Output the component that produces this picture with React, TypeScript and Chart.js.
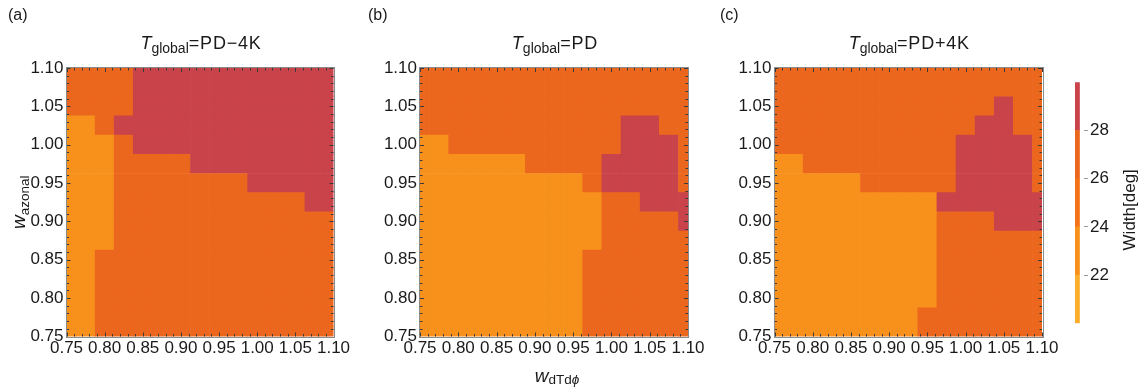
import React, { useEffect, useRef } from "react";
import { Chart, registerables } from "chart.js";

Chart.register(...registerables);

// ---- data ----
// cell centres (w_dTdphi along x, w_azonal along y, bottom to top)
const wdTdphi = [0.75, 0.775, 0.8, 0.825, 0.85, 0.875, 0.9, 0.925, 0.95, 0.975, 1.0, 1.025, 1.05, 1.075, 1.1];
const wazonal = [0.75, 0.775, 0.8, 0.825, 0.85, 0.875, 0.9, 0.925, 0.95, 0.975, 1.0, 1.025, 1.05, 1.075, 1.1];
const axisTicks = [0.75, 0.8, 0.85, 0.9, 0.95, 1.0, 1.05, 1.1];
const colorLevels = [20, 22, 24, 26, 28, 30];
const colorbarTicks = [22, 24, 26, 28];
const levelColors = ["#FBAF2C", "#F8911C", "#F47318", "#EC671E", "#C9434A"];

// Width [deg]; rows listed from w_azonal = 1.10 (top) down to 0.75 (bottom)
const widthPDminus4K = [
  [27, 27, 27, 27, 29, 29, 29, 29, 29, 29, 29, 29, 29, 29, 29],
  [27, 27, 27, 27, 29, 29, 29, 29, 29, 29, 29, 29, 29, 29, 29],
  [27, 27, 27, 27, 29, 29, 29, 29, 29, 29, 29, 29, 29, 29, 29],
  [23, 23, 27, 29, 29, 29, 29, 29, 29, 29, 29, 29, 29, 29, 29],
  [23, 23, 23, 27, 29, 29, 29, 29, 29, 29, 29, 29, 29, 29, 29],
  [23, 23, 23, 27, 27, 27, 27, 29, 29, 29, 29, 29, 29, 29, 29],
  [23, 23, 23, 27, 27, 27, 27, 27, 27, 27, 29, 29, 29, 29, 29],
  [23, 23, 23, 27, 27, 27, 27, 27, 27, 27, 27, 27, 27, 29, 29],
  [23, 23, 23, 27, 27, 27, 27, 27, 27, 27, 27, 27, 27, 27, 27],
  [23, 23, 23, 27, 27, 27, 27, 27, 27, 27, 27, 27, 27, 27, 27],
  [23, 23, 27, 27, 27, 27, 27, 27, 27, 27, 27, 27, 27, 27, 27],
  [23, 23, 27, 27, 27, 27, 27, 27, 27, 27, 27, 27, 27, 27, 27],
  [23, 23, 27, 27, 27, 27, 27, 27, 27, 27, 27, 27, 27, 27, 27],
  [23, 23, 27, 27, 27, 27, 27, 27, 27, 27, 27, 27, 27, 27, 27],
  [23, 23, 27, 27, 27, 27, 27, 27, 27, 27, 27, 27, 27, 27, 27],
];

const widthPD = [
  [27, 27, 27, 27, 27, 27, 27, 27, 27, 27, 27, 27, 27, 27, 27],
  [27, 27, 27, 27, 27, 27, 27, 27, 27, 27, 27, 27, 27, 27, 27],
  [27, 27, 27, 27, 27, 27, 27, 27, 27, 27, 27, 27, 27, 27, 27],
  [27, 27, 27, 27, 27, 27, 27, 27, 27, 27, 27, 29, 29, 27, 27],
  [23, 23, 27, 27, 27, 27, 27, 27, 27, 27, 27, 29, 29, 29, 27],
  [23, 23, 23, 23, 23, 23, 27, 27, 27, 27, 29, 29, 29, 29, 27],
  [23, 23, 23, 23, 23, 23, 23, 23, 23, 27, 29, 29, 29, 29, 27],
  [23, 23, 23, 23, 23, 23, 23, 23, 23, 23, 27, 27, 29, 29, 29],
  [23, 23, 23, 23, 23, 23, 23, 23, 23, 23, 27, 27, 27, 27, 29],
  [23, 23, 23, 23, 23, 23, 23, 23, 23, 23, 27, 27, 27, 27, 27],
  [23, 23, 23, 23, 23, 23, 23, 23, 23, 27, 27, 27, 27, 27, 27],
  [23, 23, 23, 23, 23, 23, 23, 23, 23, 27, 27, 27, 27, 27, 27],
  [23, 23, 23, 23, 23, 23, 23, 23, 23, 27, 27, 27, 27, 27, 27],
  [23, 23, 23, 23, 23, 23, 23, 23, 23, 27, 27, 27, 27, 27, 27],
  [23, 23, 23, 23, 23, 23, 23, 23, 23, 27, 27, 27, 27, 27, 27],
];

const widthPDplus4K = [
  [27, 27, 27, 27, 27, 27, 27, 27, 27, 27, 27, 27, 27, 27, 27],
  [27, 27, 27, 27, 27, 27, 27, 27, 27, 27, 27, 27, 27, 27, 27],
  [27, 27, 27, 27, 27, 27, 27, 27, 27, 27, 27, 27, 29, 27, 27],
  [27, 27, 27, 27, 27, 27, 27, 27, 27, 27, 27, 29, 29, 27, 27],
  [27, 27, 27, 27, 27, 27, 27, 27, 27, 27, 29, 29, 29, 29, 27],
  [23, 23, 27, 27, 27, 27, 27, 27, 27, 27, 29, 29, 29, 29, 27],
  [23, 23, 23, 23, 23, 27, 27, 27, 27, 27, 29, 29, 29, 29, 27],
  [23, 23, 23, 23, 23, 23, 23, 23, 23, 29, 29, 29, 29, 29, 29],
  [23, 23, 23, 23, 23, 23, 23, 23, 23, 27, 27, 27, 29, 29, 29],
  [23, 23, 23, 23, 23, 23, 23, 23, 23, 27, 27, 27, 27, 27, 27],
  [23, 23, 23, 23, 23, 23, 23, 23, 23, 27, 27, 27, 27, 27, 27],
  [23, 23, 23, 23, 23, 23, 23, 23, 23, 27, 27, 27, 27, 27, 27],
  [23, 23, 23, 23, 23, 23, 23, 23, 23, 27, 27, 27, 27, 27, 27],
  [23, 23, 23, 23, 23, 23, 23, 23, 27, 27, 27, 27, 27, 27, 27],
  [23, 23, 23, 23, 23, 23, 23, 23, 27, 27, 27, 27, 27, 27, 27],
];

// ---- styling / layout ----
const W = 1140;
const H = 390;
const FONT = "'Liberation Sans', Arial, Helvetica, sans-serif";
const TEXT = "#1a1a1a";

type Part = { text: string; font: string; dy?: number; ls?: string };

function colorFor(v: number) {
  for (let k = 0; k < levelColors.length; k++) {
    if (v < colorLevels[k + 1]) return levelColors[k];
  }
  return levelColors[levelColors.length - 1];
}

function drawRich(ctx: CanvasRenderingContext2D, parts: Part[], x: number, y: number, align: "center" | "left") {
  const c: any = ctx;
  let total = 0;
  for (const p of parts) {
    ctx.font = p.font;
    c.letterSpacing = p.ls || "0px";
    total += ctx.measureText(p.text).width;
  }
  let cx = align === "center" ? x - total / 2 : x;
  ctx.textAlign = "left";
  ctx.textBaseline = "alphabetic";
  for (const p of parts) {
    ctx.font = p.font;
    c.letterSpacing = p.ls || "0px";
    ctx.fillText(p.text, cx, y + (p.dy || 0));
    cx += ctx.measureText(p.text).width;
  }
  c.letterSpacing = "0px";
}

const panels = [
  {
    values: widthPDminus4K,
    title: "=PD\u22124K",
    letter: "(a)",
    letterX: 8,
    area: { left: 66.5, right: 333.5, top: 68, bottom: 336.5 },
    yTitle: true,
    xTitle: false,
  },
  {
    values: widthPD,
    title: "=PD",
    letter: "(b)",
    letterX: 368,
    area: { left: 420, right: 688, top: 68, bottom: 336.5 },
    yTitle: false,
    xTitle: true,
  },
  {
    values: widthPDplus4K,
    title: "=PD+4K",
    letter: "(c)",
    letterX: 720,
    area: { left: 774.5, right: 1042, top: 68, bottom: 336.5 },
    yTitle: false,
    xTitle: false,
  },
];

const Y_AXIS_W = 50;
const X_AXIS_H = 30;

function makePanelConfig(p: (typeof panels)[number]): any {
  const data: any[] = [];
  const colors: string[] = [];
  const dy = wazonal[1] - wazonal[0];
  const nRows = p.values.length;
  p.values.forEach((row, r) => {
    const yc = wazonal[nRows - 1 - r];
    row.forEach((v, i) => {
      data.push({ x: wdTdphi[i], y: [yc - dy / 2, yc + dy / 2], w: v });
      colors.push(colorFor(v));
    });
  });

  const framePlugin = {
    id: "frameAndText",
    afterDatasetsDraw(chart: any) {
      const { ctx, chartArea } = chart;
      const { left, right, top, bottom } = chartArea;
      const xs = chart.scales.x;
      const ys = chart.scales.y;
      ctx.save();
      // inward ticks on all four sides (major 0.05, minor 0.01)
      ctx.strokeStyle = "#3a3a3a";
      ctx.lineWidth = 1;
      ctx.beginPath();
      for (let k = 0; k <= 35; k++) {
        const v = 0.75 + k * 0.01;
        const len = k % 5 === 0 ? 4 : 2.5;
        const px = Math.round(xs.getPixelForValue(v)) + 0.5;
        ctx.moveTo(px, bottom);
        ctx.lineTo(px, bottom - len);
        ctx.moveTo(px, top);
        ctx.lineTo(px, top + len);
        const py = Math.round(ys.getPixelForValue(v)) + 0.5;
        ctx.moveTo(left, py);
        ctx.lineTo(left + len, py);
        ctx.moveTo(right, py);
        ctx.lineTo(right - len, py);
      }
      ctx.stroke();
      // frame
      ctx.strokeStyle = "#8a8a8a";
      ctx.lineWidth = 1;
      ctx.strokeRect(Math.round(left) - 0.5, Math.round(top) - 0.5, Math.round(right - left) + 1, Math.round(bottom - top) + 1);

      // texts
      ctx.fillStyle = TEXT;
      ctx.font = `16px ${FONT}`;
      ctx.textAlign = "left";
      ctx.textBaseline = "alphabetic";
      ctx.fillText(p.letter, p.letterX, 20);

      drawRich(
        ctx,
        [
          { text: "T", font: `italic 18px ${FONT}` },
          { text: "global", font: `14px ${FONT}`, dy: 4.2 },
          { text: p.title, font: `18px ${FONT}`, ls: "0.8px" },
        ],
        (left + right) / 2 + 1,
        48.5,
        "center"
      );

      if (p.yTitle) {
        ctx.save();
        ctx.translate(25, (top + bottom) / 2);
        ctx.rotate(-Math.PI / 2);
        drawRich(
          ctx,
          [
            { text: "w", font: `italic 19px ${FONT}` },
            { text: "azonal", font: `13.5px ${FONT}`, dy: 3.5 },
          ],
          0,
          0,
          "center"
        );
        ctx.restore();
      }
      if (p.xTitle) {
        drawRich(
          ctx,
          [
            { text: "w", font: `italic 19px ${FONT}` },
            { text: "dTd", font: `13.5px ${FONT}`, dy: 2.5 },
            { text: "\u03d5", font: `italic 13.5px ${FONT}`, dy: 2.5 },
          ],
          (left + right) / 2 + 3,
          381.5,
          "center"
        );
      }
      ctx.restore();
    },
  };

  const tickFont = { family: FONT, size: 17 };

  return {
    type: "bar",
    data: {
      datasets: [
        {
          data,
          backgroundColor: colors,
          borderWidth: 0,
          barPercentage: 1,
          categoryPercentage: 1,
          clip: 0,
        },
      ],
    },
    options: {
      responsive: false,
      animation: false,
      events: [],
      layout: {
        padding: {
          left: p.area.left - Y_AXIS_W,
          right: W - p.area.right,
          top: p.area.top,
          bottom: H - p.area.bottom - X_AXIS_H,
        },
      },
      plugins: {
        legend: { display: false },
        tooltip: { enabled: false },
        title: { display: false },
      },
      scales: {
        x: {
          type: "linear",
          min: 0.75,
          max: 1.1,
          offset: false,
          grid: { display: false, drawTicks: false, offset: false },
          border: { display: false },
          afterBuildTicks: (s: any) => {
            s.ticks = axisTicks.map((v) => ({ value: v }));
          },
          afterFit: (s: any) => {
            s.height = X_AXIS_H;
          },
          ticks: {
            padding: 2,
            maxRotation: 0,
            minRotation: 0,
            autoSkip: false,
            color: TEXT,
            font: tickFont,
            callback: (v: any) => Number(v).toFixed(2),
          },
        },
        y: {
          type: "linear",
          min: 0.75,
          max: 1.1,
          beginAtZero: false,
          grid: { display: false, drawTicks: false },
          border: { display: false },
          afterBuildTicks: (s: any) => {
            s.ticks = axisTicks.map((v) => ({ value: v }));
          },
          afterFit: (s: any) => {
            s.width = Y_AXIS_W;
          },
          ticks: {
            padding: 3,
            autoSkip: false,
            color: TEXT,
            font: tickFont,
            callback: (v: any) => Number(v).toFixed(2),
          },
        },
      },
    },
    plugins: [framePlugin],
  };
}

function makeColorbarConfig(): any {
  const bar = { left: 1075, right: 1084, top: 82.3, bottom: 323.3 };
  const axisW = 40;
  const titlePlugin = {
    id: "cbTitle",
    afterDraw(chart: any) {
      const { ctx } = chart;
      ctx.save();
      ctx.fillStyle = TEXT;
      ctx.translate(1135, (bar.top + bar.bottom) / 2 + 7);
      ctx.rotate(-Math.PI / 2);
      ctx.font = `17px ${FONT}`;
      ctx.textAlign = "center";
      ctx.textBaseline = "alphabetic";
      ctx.fillText("Width[deg]", 0, 0);
      ctx.restore();
    },
  };
  return {
    type: "bar",
    data: {
      labels: ["Width"],
      datasets: levelColors.map((c, k) => ({
        data: [[colorLevels[k], colorLevels[k + 1]]],
        backgroundColor: c,
        borderWidth: 0,
        barPercentage: 1,
        categoryPercentage: 1,
        grouped: false,
      })),
    },
    options: {
      responsive: false,
      animation: false,
      events: [],
      layout: {
        padding: {
          left: bar.left,
          right: W - bar.right - axisW,
          top: bar.top,
          bottom: H - bar.bottom,
        },
      },
      plugins: {
        legend: { display: false },
        tooltip: { enabled: false },
      },
      scales: {
        x: { display: false, offset: false },
        y: {
          position: "right",
          min: colorLevels[0],
          max: colorLevels[colorLevels.length - 1],
          beginAtZero: false,
          afterBuildTicks: (s: any) => {
            s.ticks = colorbarTicks.map((v) => ({ value: v }));
          },
          afterFit: (s: any) => {
            s.width = axisW;
          },
          grid: { display: true, drawOnChartArea: false, drawTicks: true, tickLength: 4, color: "#9a9a9a" },
          border: { display: false },
          ticks: { padding: 2, color: TEXT, font: { family: FONT, size: 17 } },
        },
      },
    },
    plugins: [titlePlugin],
  };
}

export default function App() {
  const r0 = useRef<HTMLCanvasElement>(null);
  const r1 = useRef<HTMLCanvasElement>(null);
  const r2 = useRef<HTMLCanvasElement>(null);
  const r3 = useRef<HTMLCanvasElement>(null);

  useEffect(() => {
    const refs = [r0, r1, r2];
    const charts: Chart[] = [];
    panels.forEach((p, k) => {
      const el = refs[k].current;
      if (el) charts.push(new Chart(el, makePanelConfig(p)));
    });
    if (r3.current) charts.push(new Chart(r3.current, makeColorbarConfig()));
    return () => charts.forEach((c) => c.destroy());
  }, []);

  const cs: React.CSSProperties = { position: "absolute", left: 0, top: 0 };
  return (
    <div style={{ position: "absolute", left: 0, top: 0, width: W, height: H, background: "#fff" }}>
      <canvas ref={r0} width={W} height={H} style={cs} />
      <canvas ref={r1} width={W} height={H} style={cs} />
      <canvas ref={r2} width={W} height={H} style={cs} />
      <canvas ref={r3} width={W} height={H} style={cs} />
    </div>
  );
}
